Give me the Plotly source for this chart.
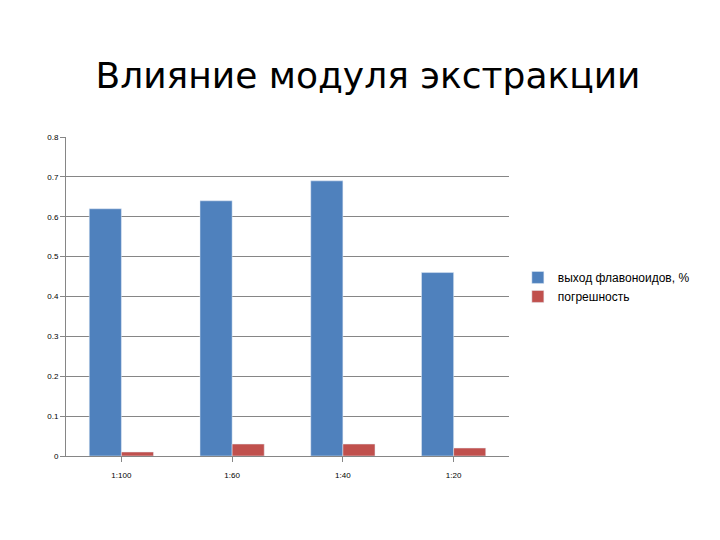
import plotly.graph_objects as go

categories = ["1:100", "1:60", "1:40", "1:20"]
yield_vals = [0.62, 0.64, 0.69, 0.46]
error_vals = [0.01, 0.03, 0.03, 0.02]

fig = go.Figure()
fig.add_bar(x=categories, y=yield_vals, name="выход флавоноидов, %", marker_color="#4F81BD")
fig.add_bar(x=categories, y=error_vals, name="погрешность", marker_color="#C0504D")

fig.update_layout(
    width=720, height=540,
    paper_bgcolor="white", plot_bgcolor="white",
    margin=dict(l=58, r=219, t=129, b=92),
    barmode="group", bargap=0.42, bargroupgap=0,
    font=dict(family="Liberation Sans", color="#000"),
    title=dict(text="Влияние модуля экстракции", x=0.5, xref="container", xanchor="center",
               y=0.875, yanchor="middle",
               font=dict(size=36, family="DejaVu Sans", color="#000")),
    legend=dict(x=1.02, y=0.53, yanchor="middle", xanchor="left", font=dict(size=12),
                tracegroupgap=6, itemwidth=30),
    showlegend=True,
)
fig.update_xaxes(showline=True, linecolor="#868686", ticks="outside", tickcolor="#868686",
                 tickfont=dict(size=8), ticklabelstandoff=6)
fig.update_yaxes(range=[0, 0.8], showgrid=True, gridcolor="#868686",
                 showline=True, linecolor="#868686", ticks="outside", tickcolor="#868686",
                 tickfont=dict(size=8), zeroline=False,
                 tickvals=[0, 0.1, 0.2, 0.3, 0.4, 0.5, 0.6, 0.7, 0.8],
                 ticktext=["0", "0.1", "0.2", "0.3", "0.4", "0.5", "0.6", "0.7", "0.8"])
fig.write_html("out.html")
